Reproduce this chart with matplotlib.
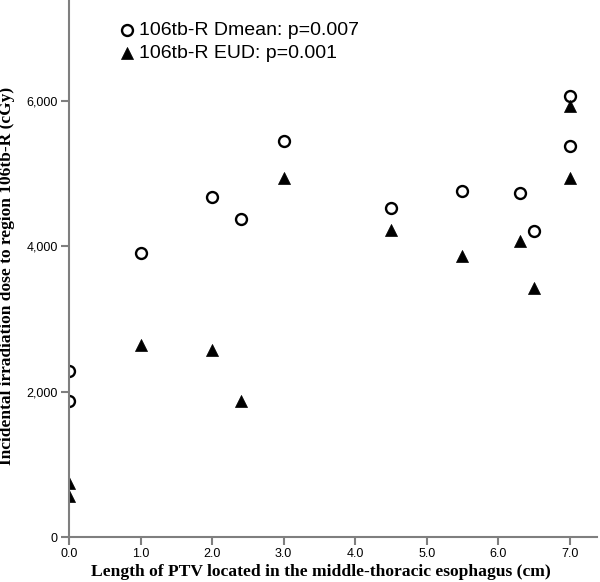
import matplotlib
matplotlib.use("Agg")
import matplotlib.pyplot as plt

# Dmean (open circles)
x_dmean = [0.0, 0.0, 1.0, 2.0, 2.4, 3.0, 4.5, 5.5, 6.3, 6.5, 7.0, 7.0]
y_dmean = [2285, 1875, 3905, 4675, 4375, 5445, 4525, 4765, 4730, 4210, 6075, 5380]
# EUD (filled triangles)
x_eud = [0.0, 0.0, 1.0, 2.0, 2.4, 3.0, 4.5, 5.5, 6.3, 6.5, 7.0, 7.0]
y_eud = [750, 570, 2650, 2580, 1880, 4935, 4225, 3865, 4080, 3430, 5930, 4945]

x_ticks = [0, 1, 2, 3, 4, 5, 6, 7]
y_ticks = [0, 2000, 4000, 6000]

fig = plt.figure(figsize=(6, 5.82), dpi=100)
ax = fig.add_axes([0.115, 0.077, 0.88, 0.923])
gray = "#7f7f7f"

ax.scatter(x_dmean, y_dmean, s=62, marker="o", facecolor="white", edgecolor="black",
           linewidth=1.7, label="106tb-R Dmean: p=0.007", zorder=3)
ax.scatter(x_eud, y_eud, s=75, marker="^", facecolor="black", edgecolor="black",
           linewidth=0.5, label="106tb-R EUD: p=0.001", zorder=3)

ax.set_xlim(0, 7.38)
ax.set_ylim(0, 7390)
ax.set_xticks(x_ticks)
ax.set_xticklabels([f"{v:.1f}" for v in x_ticks])
ax.set_yticks(y_ticks)
ax.set_yticklabels([f"{v:,}" for v in y_ticks])
for s in ["top", "right"]:
    ax.spines[s].set_visible(False)
for s in ["left", "bottom"]:
    ax.spines[s].set_color(gray)
    ax.spines[s].set_linewidth(1.5)
    ax.spines[s].set_zorder(4)
ax.tick_params(colors=gray, width=1.5, length=6, labelcolor="black", labelsize=9, pad=2)
for lab in ax.get_xticklabels() + ax.get_yticklabels():
    lab.set_fontfamily("Liberation Sans")

ax.set_xlabel("Length of PTV located in the middle-thoracic esophagus (cm)",
              fontfamily="Liberation Serif", fontweight="bold", fontsize=12.6, va="center")
ax.xaxis.set_label_coords(0.477, -0.0646)
ax.set_ylabel("Incidental irradiation dose to region 106tb-R (cGy)",
              fontfamily="Liberation Serif", fontweight="bold", fontsize=12.5, va="center")
ax.yaxis.set_label_coords(-0.118, 0.486)

ax.legend(loc="upper left", bbox_to_anchor=(0.064, 0.986), frameon=False,
          prop={"family": "Liberation Sans", "size": 14}, handletextpad=0.05,
          labelspacing=0.3, handlelength=1.1, borderaxespad=0.3, scatterpoints=1)

fig.savefig("out.png", dpi=100)
